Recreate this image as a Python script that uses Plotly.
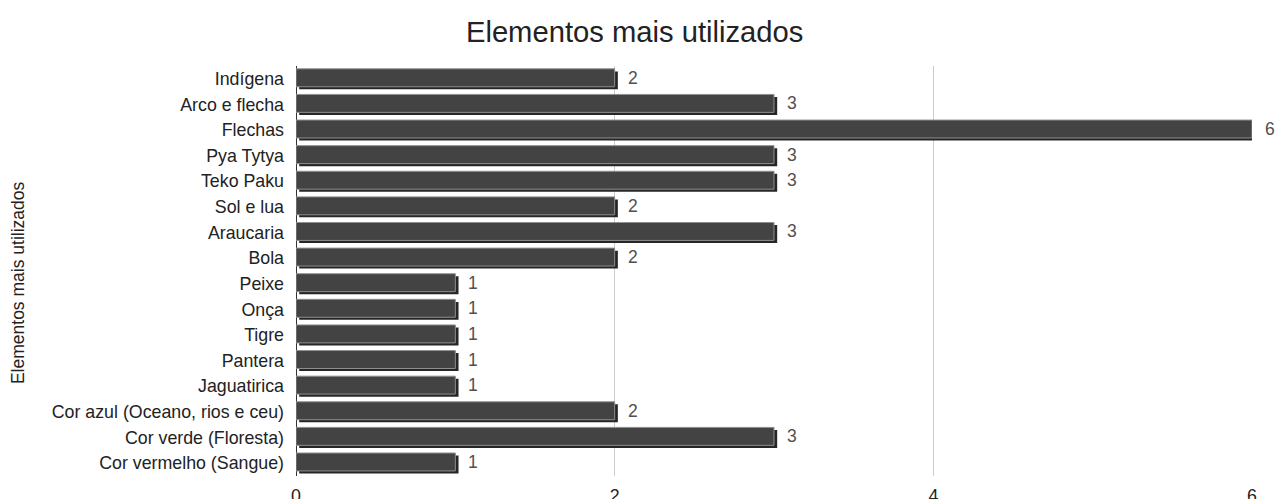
import plotly.graph_objects as go

categories = [
    "Indígena", "Arco e flecha", "Flechas", "Pya Tytya", "Teko Paku",
    "Sol e lua", "Araucaria", "Bola", "Peixe", "Onça", "Tigre", "Pantera",
    "Jaguatirica", "Cor azul (Oceano, rios e ceu)", "Cor verde (Floresta)",
    "Cor vermelho (Sangue)",
]
values = [2, 3, 6, 3, 3, 2, 3, 2, 1, 1, 1, 1, 1, 2, 3, 1]
x_ticks = [0, 2, 4, 6]

FONT = "Liberation Sans, Arial, sans-serif"

fig = go.Figure()
# shadow bars (3D effect)
fig.add_trace(go.Bar(
    y=categories, x=values, base=0.02, orientation="h",
    width=0.7, offset=-0.29,
    marker=dict(color="#262626", line=dict(width=0)),
    hoverinfo="skip", showlegend=False, cliponaxis=False,
))
# main bars
fig.add_trace(go.Bar(
    y=categories, x=values, orientation="h",
    width=0.7, offset=-0.39,
    marker=dict(color="#434343", line=dict(color="#8f8f8f", width=1)),
    showlegend=False, cliponaxis=False,
))

for c, v in zip(categories, values):
    fig.add_annotation(
        x=v, y=c, xref="x", yref="y", text=str(v), showarrow=False,
        xanchor="left", xshift=11, yshift=1,
        font=dict(family=FONT, size=17.5, color="#505050"),
    )

# y-axis title
fig.add_annotation(
    x=-0.2908, y=0.473, xref="paper", yref="paper", text="Elementos mais utilizados",
    textangle=-90, showarrow=False, xanchor="center", yanchor="middle",
    font=dict(family=FONT, size=17.5, color="#222222"),
)

fig.update_layout(
    width=1277, height=499,
    barmode="overlay",
    paper_bgcolor="white", plot_bgcolor="white",
    margin=dict(l=296, r=25, t=66, b=23, autoexpand=False),
    title=dict(text="Elementos mais utilizados", x=0.497, xanchor="center",
               y=0.936, yanchor="middle",
               font=dict(family=FONT, size=29.2, color="#222222")),
    font=dict(family=FONT, size=17.8, color="#222222"),
)
fig.update_xaxes(
    range=[0, 6], tickvals=x_ticks, showgrid=True, gridcolor="#cccccc", gridwidth=1,
    zeroline=True, zerolinecolor="#333333", zerolinewidth=1,
    showline=False, ticks="", ticklabelstandoff=7,
    tickfont=dict(family=FONT, size=17.8, color="#222222"),
)
fig.update_yaxes(
    autorange="reversed", showgrid=False, zeroline=False, showline=False, ticks="",
    ticklabelstandoff=11,
    tickfont=dict(family=FONT, size=17.8, color="#222222"),
)

fig.write_html(
    "out.html",
    config={"displayModeBar": False},
    post_script="document.body.style.margin='0';document.body.style.overflow='hidden';",
)
